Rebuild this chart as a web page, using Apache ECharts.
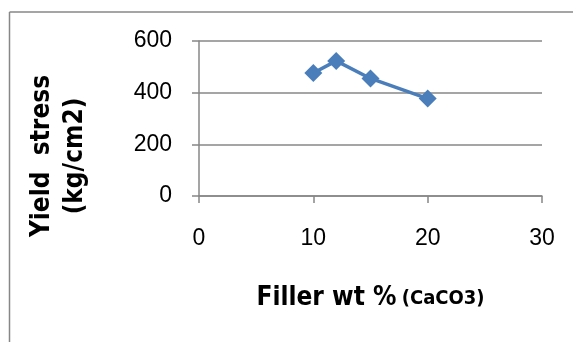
<!DOCTYPE html>
<html>
<head>
<meta charset="utf-8">
<script src="https://cdn.jsdelivr.net/npm/echarts@6/dist/echarts.min.js"></script>
<style>
html,body{margin:0;padding:0;background:#fff;}
#chart{width:573px;height:342px;}
</style>
</head>
<body>
<div id="chart"></div>
<script>
var fillerWt = [10, 12, 15, 20];
var yieldStress = [476, 523, 455, 377];
var xTicks = [0, 10, 20, 30];
var yTicks = [0, 200, 400, 600];

var narrow = "'Liberation Sans Narrow','Arial Narrow','DejaVu Sans Condensed',sans-serif";
var tickFont = "'Liberation Sans',Arial,sans-serif";

var chart = echarts.init(document.getElementById('chart'), null, {renderer:'canvas'});
chart.setOption({
  animation:false,
  backgroundColor:'#ffffff',
  grid:{left:199, right:31, top:41, height:155},
  xAxis:{
    type:'value', min:xTicks[0], max:xTicks[xTicks.length-1], interval:10,
    axisLine:{show:true, lineStyle:{color:'#878787', width:1.5}},
    axisTick:{show:true, length:7, lineStyle:{color:'#878787', width:1.5}},
    axisLabel:{color:'#000', fontSize:23, fontFamily:tickFont, margin:31},
    splitLine:{show:false},
    name:'{a|Filler wt %} {b|(CaCO3)}',
    nameLocation:'middle', nameGap:87,
    nameTextStyle:{
      rich:{
        a:{fontSize:26, fontWeight:'bold', fontFamily:narrow, color:'#000', lineHeight:30, verticalAlign:'middle'},
        b:{fontSize:20, fontWeight:'bold', fontFamily:narrow, color:'#000', lineHeight:30, verticalAlign:'middle', padding:[2,0,0,2]}
      }
    }
  },
  yAxis:{
    type:'value', min:yTicks[0], max:yTicks[yTicks.length-1], interval:200,
    axisLine:{show:true, lineStyle:{color:'#878787', width:1.5}},
    axisTick:{show:true, length:7, lineStyle:{color:'#878787', width:1.5}},
    axisLabel:{color:'#000', fontSize:23, fontFamily:tickFont, margin:27},
    splitLine:{show:true, lineStyle:{color:'#878787', width:1.5}}
  },
  graphic:[
    {type:'line', shape:{x1:9.5, y1:12, x2:9.5, y2:342}, style:{stroke:'#878787', lineWidth:1.5}},
    {type:'line', shape:{x1:9.5, y1:12, x2:573, y2:12}, style:{stroke:'#878787', lineWidth:1.5}},
    {type:'text', x:59, y:156, rotation:Math.PI/2,
     style:{text:'Yield  stress\n(kg/cm2)', fontSize:26, fontWeight:'bold', fontFamily:narrow,
            fill:'#000', align:'center', verticalAlign:'middle', lineHeight:33}}
  ],
  series:[{
    type:'line',
    data:fillerWt.map(function(x,i){return [x, yieldStress[i]];}),
    symbol:'diamond', symbolSize:18,
    lineStyle:{color:'#4A7EBB', width:3.5},
    itemStyle:{color:'#4A7EBB'}
  }]
});
</script>
</body>
</html>
